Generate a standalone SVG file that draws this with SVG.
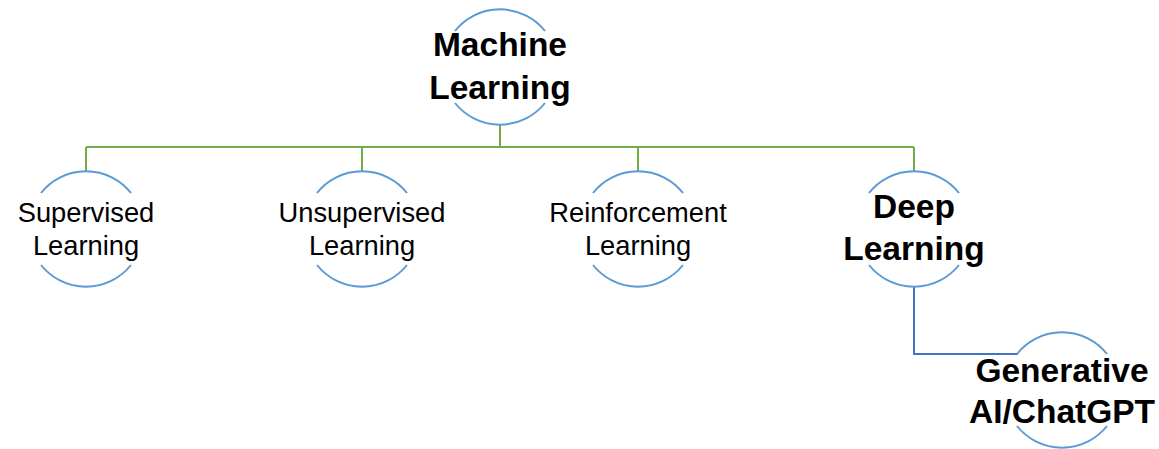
<svg xmlns="http://www.w3.org/2000/svg" xmlns:xlink="http://www.w3.org/1999/xlink" width="1159" height="449" viewBox="0 0 1159 449">
<style>
.arc{fill:none;stroke:#5B9BD5;stroke-width:2}
.g{fill:none;stroke:#70AD47;stroke-width:2}
.b{fill:none;stroke:#4472C4;stroke-width:2}
.t{font-family:"Liberation Sans",Arial,sans-serif;font-size:27.3px;fill:#000;text-anchor:middle}
.tb{font-family:"Liberation Sans",Arial,sans-serif;font-size:33.5px;font-weight:bold;fill:#000;text-anchor:middle}
</style>
<defs>
<g id="ring">
<path class="arc" d="M-45 -36 A57.6 57.6 0 0 1 45 -36"/>
<path class="arc" d="M-45 36 A57.6 57.6 0 0 0 45 36"/>
</g>
</defs>
<rect width="1159" height="449" fill="#fff"/>
<g id="connectors">
<path class="g" d="M500 124.6V147M86 147H914M86 147V171.6M362 147V171.6M638 147V171.6M914 147V171.6"/>
<path class="b" d="M914 286.6V354H1018"/>
</g>
<g id="n-ml">
<use xlink:href="#ring" x="500" y="67"/>
<text class="tb" x="500" y="56">Machine</text>
<text class="tb" x="500" y="99">Learning</text>
</g>
<g id="n-sup">
<use xlink:href="#ring" x="86" y="229"/>
<text class="t" x="86" y="222">Supervised</text>
<text class="t" x="86" y="255">Learning</text>
</g>
<g id="n-unsup">
<use xlink:href="#ring" x="362" y="229"/>
<text class="t" x="362" y="222">Unsupervised</text>
<text class="t" x="362" y="255">Learning</text>
</g>
<g id="n-rl">
<use xlink:href="#ring" x="638" y="229"/>
<text class="t" x="638" y="222">Reinforcement</text>
<text class="t" x="638" y="255">Learning</text>
</g>
<g id="n-dl">
<use xlink:href="#ring" x="914" y="229"/>
<text class="tb" x="914" y="218">Deep</text>
<text class="tb" x="914" y="260">Learning</text>
</g>
<g id="n-gen">
<use xlink:href="#ring" x="1062" y="390"/>
<text class="tb" x="1062" y="382">Generative</text>
<text class="tb" x="1062" y="423">AI/ChatGPT</text>
</g>
</svg>
